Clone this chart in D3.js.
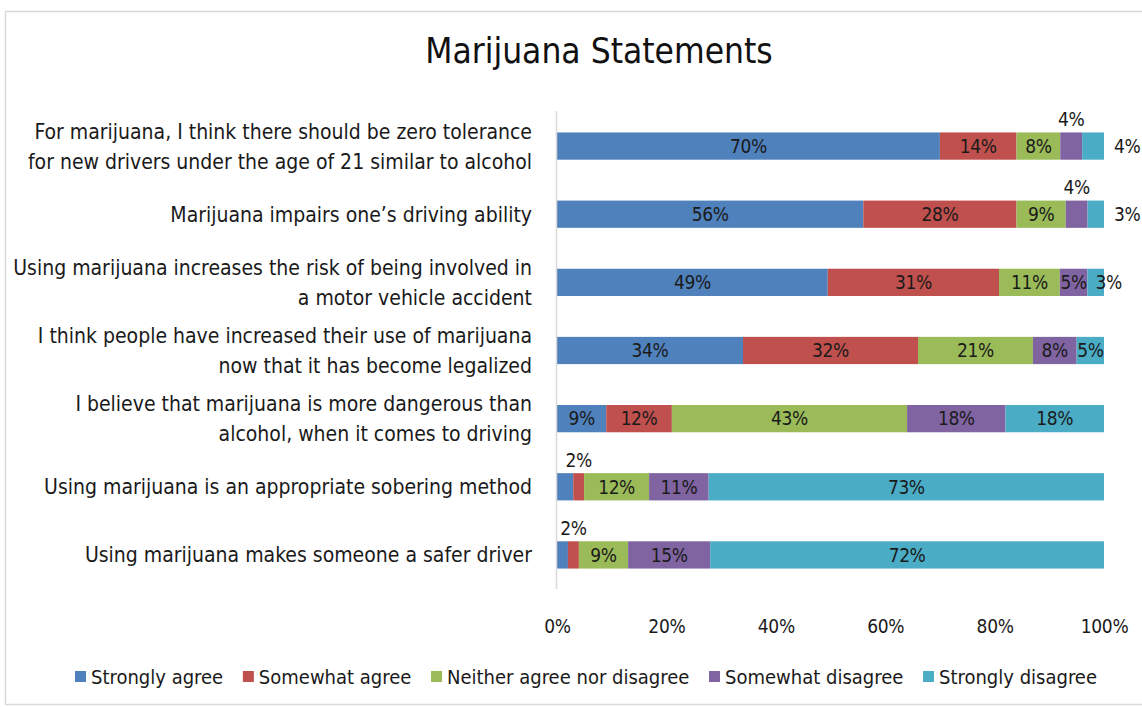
<!DOCTYPE html>
<html>
<head>
<meta charset="utf-8">
<script src="https://cdn.jsdelivr.net/npm/d3@7"></script>
<style>
  html, body { margin: 0; padding: 0; background: #fff; }
  svg { display: block; }
  text { font-family: "Liberation Sans Narrow", "DejaVu Sans Condensed", "Arial Narrow", sans-serif; }
</style>
</head>
<body>
<svg id="chart" width="1142" height="707"></svg>
<script>
// Survey statements (label lines) in display order, top to bottom
const statements = [
  ["For marijuana, I think there should be zero tolerance", "for new drivers under the age of 21 similar to alcohol"],
  ["Marijuana impairs one\u2019s driving ability"],
  ["Using marijuana increases the risk of being involved in", "a motor vehicle accident"],
  ["I think people have increased their use of marijuana", "now that it has become legalized"],
  ["I believe that marijuana is more dangerous than", "alcohol, when it comes to driving"],
  ["Using marijuana is an appropriate sobering method"],
  ["Using marijuana makes someone a safer driver"]
];

const responses = ["Strongly agree", "Somewhat agree", "Neither agree nor disagree", "Somewhat disagree", "Strongly disagree"];

// Percent of respondents per response, one array per statement
const stronglyAgree    = [70, 56, 49, 34,  9,  3,  2];
const somewhatAgree    = [14, 28, 31, 32, 12,  2,  2];
const neither          = [ 8,  9, 11, 21, 43, 12,  9];
const somewhatDisagree = [ 4,  4,  5,  8, 18, 11, 15];
const stronglyDisagree = [ 4,  3,  3,  5, 18, 73, 72];

const tickLabels = ["0%", "20%", "40%", "60%", "80%", "100%"];

// Where each value label sits: in = centred in segment, above, right of bar,
// shift = just past the segment start, none = not labelled
const labelPlacement = [
  ["in", "in", "in", "above", "right"],
  ["in", "in", "in", "above", "right"],
  ["in", "in", "in", "in", "shift"],
  ["in", "in", "in", "in", "in"],
  ["in", "in", "in", "in", "in"],
  ["none", "above", "in", "in", "in"],
  ["none", "above", "in", "in", "in"]
];

const colors = ["#4F81BD", "#C0504D", "#9BBB59", "#8064A2", "#4BACC6"];

const seriesValues = [stronglyAgree, somewhatAgree, neither, somewhatDisagree, stronglyDisagree];
const rows = statements.map((s, i) => {
  const r = { key: i };
  responses.forEach((name, j) => { r[name] = seriesValues[j][i]; });
  return r;
});

const svg = d3.select("#chart");

// outer frame
svg.append("rect")
  .attr("x", 5.5).attr("y", 11.5)
  .attr("width", 1150).attr("height", 693)
  .attr("fill", "none").attr("stroke", "#d9d9d9").attr("stroke-width", 1.5);

svg.append("text")
  .attr("x", 599).attr("y", 63)
  .attr("text-anchor", "middle")
  .attr("font-size", 35)
  .attr("fill", "#111")
  .text("Marijuana Statements");

const x = d3.scaleLinear().domain([0, 1]).range([557, 1104]);
const y = d3.scaleBand().domain(d3.range(statements.length))
  .range([112, 589]).paddingInner(0.6).paddingOuter(0.3);

const stack = d3.stack().keys(responses).offset(d3.stackOffsetExpand);
const layers = stack(rows);

// bars
const g = svg.append("g");
layers.forEach((layer, j) => {
  g.append("g").attr("fill", colors[j])
    .selectAll("rect").data(layer).join("rect")
    .attr("x", d => x(d[0]))
    .attr("y", (d, i) => y(i))
    .attr("width", d => x(d[1]) - x(d[0]))
    .attr("height", y.bandwidth());
});

// value labels
layers.forEach((layer, j) => {
  layer.forEach((d, i) => {
    const mode = labelPlacement[i][j];
    if (mode === "none") return;
    const v = seriesValues[j][i];
    const cy = y(i) + y.bandwidth() / 2;
    let lx = (x(d[0]) + x(d[1])) / 2, ly = cy, anchor = "middle";
    if (mode === "above") { ly = y(i) - 13; }
    if (mode === "right") { lx = x(1) + 10; anchor = "start"; }
    if (mode === "shift") { lx = x(d[0]) + 8; anchor = "start"; }
    svg.append("text")
      .attr("x", lx).attr("y", ly)
      .attr("dy", "0.36em")
      .attr("text-anchor", anchor)
      .attr("font-size", 19)
      .attr("letter-spacing", -0.4)
      .attr("fill", "#1a1a1a")
      .text(v + "%");
  });
});

// category axis
svg.append("line")
  .attr("x1", 556.5).attr("x2", 556.5)
  .attr("y1", 111).attr("y2", 589)
  .attr("stroke", "#d9d9d9").attr("stroke-width", 1.5);

statements.forEach((lines, i) => {
  const cy = y(i) + y.bandwidth() / 2;
  const lh = 30;
  const t = svg.append("text")
    .attr("text-anchor", "end")
    .attr("font-size", 21)
    .attr("fill", "#1a1a1a");
  lines.forEach((ln, k) => {
    t.append("tspan")
      .attr("x", 532)
      .attr("y", cy + (k - (lines.length - 1) / 2) * lh)
      .attr("dy", "0.36em")
      .text(ln);
  });
});

// value axis tick labels
const xAxis = d3.axisBottom(x).tickValues(d3.range(0, 1.0001, 0.2))
  .tickFormat((d, i) => tickLabels[i]).tickSize(0).tickPadding(0);
const ax = svg.append("g").attr("transform", "translate(0,626)").call(xAxis);
ax.select(".domain").remove();
ax.selectAll("text")
  .attr("font-size", 19)
  .attr("letter-spacing", -0.3)
  .attr("fill", "#1a1a1a")
  .attr("dy", "0.36em")
  .attr("font-family", null);

// legend, spread left to right between the chart's margins
const legend = svg.append("g");
const items = responses.map((name, j) => {
  const it = legend.append("g");
  it.append("rect")
    .attr("x", 0).attr("y", -6)
    .attr("width", 11).attr("height", 11)
    .attr("fill", colors[j]);
  const t = it.append("text")
    .attr("x", 16).attr("y", 0)
    .attr("dy", "0.36em")
    .attr("font-size", 20)
    .attr("fill", "#1a1a1a")
    .text(name);
  return { g: it, w: 16 + t.node().getComputedTextLength() };
});
const legendLeft = 75, legendRight = 1097;
const gap = Math.max(10, (legendRight - legendLeft - d3.sum(items, d => d.w)) / (items.length - 1));
const total = d3.sum(items, d => d.w) + gap * (items.length - 1);
let cx = (legendLeft + legendRight) / 2 - total / 2;
items.forEach(it => {
  it.g.attr("transform", `translate(${cx},677)`);
  cx += it.w + gap;
});
</script>
</body>
</html>
